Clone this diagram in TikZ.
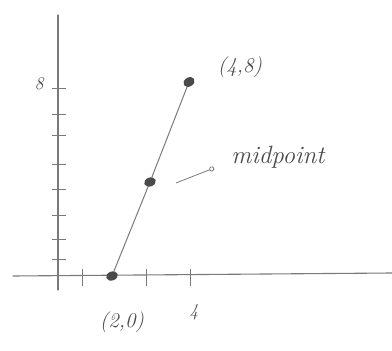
\documentclass[tikz,border=0pt]{standalone}
\usetikzlibrary{arrows.meta,shapes.geometric}
\definecolor{pencil}{HTML}{7A7A7A}
\definecolor{ink}{HTML}{4A4A4A}
\begin{document}
\begin{tikzpicture}[x=1pt,y=-1pt,
  axis/.style={draw=pencil,line width=1.1pt,line cap=round},
  tickmark/.style={draw=pencil,line width=1pt},
  seg/.style={draw=pencil,line width=1pt},
  dot/.style={ellipse,fill=ink,minimum width=12pt,minimum height=9pt,inner sep=0pt,rotate=20},
  hand/.style={text=ink,font=\itshape\fontsize{21}{21}\selectfont,inner sep=0pt},
  pointer/.style={draw=pencil,line width=0.8pt,-{Circle[open,length=5pt,width=5pt]}}
]
\useasboundingbox (0,0) rectangle (392,351);
% axes
\coordinate (yt) at (58,15);
\coordinate (yb) at (58,290);
\coordinate (xl) at (13,276);
\coordinate (xr) at (392,273);
\draw[axis] (yb) -- (yt);
\draw[axis] (xl) -- (xr);
% y ticks
\foreach \yy in {88,114,135,164,189,215,239,259}{
  \draw[tickmark] (52,\yy) -- (66,\yy);
}
% x ticks
\foreach \xx in {82,146,190}{
  \draw[tickmark] (\xx,269) -- (\xx,286);
}
% points
\node[dot] (p20) at (112,276) {};
\node[dot] (pmid) at (150,182) {};
\node[dot,rotate=10] (p48) at (189,82) {};
\draw[seg] (p20) -- (pmid) -- (p48);
% labels
\node[hand,font=\itshape\fontsize{18}{18}\selectfont] (l8) at (39,84) {8};
\node[hand] (l48) at (240,67) {(4,8)};
\node[hand] (l20) at (122,322) {(2,0)};
\node[hand,font=\itshape\fontsize{18}{18}\selectfont] (l4) at (194,312) {4};
\node[hand,font=\itshape\fontsize{25}{25}\selectfont] (lmid) at (278,157) {midpoint};
\coordinate (arrS) at (176,183);
\coordinate (arrE) at (214,168);
\draw[pointer] (arrS) -- (arrE);
\end{tikzpicture}
\end{document}
